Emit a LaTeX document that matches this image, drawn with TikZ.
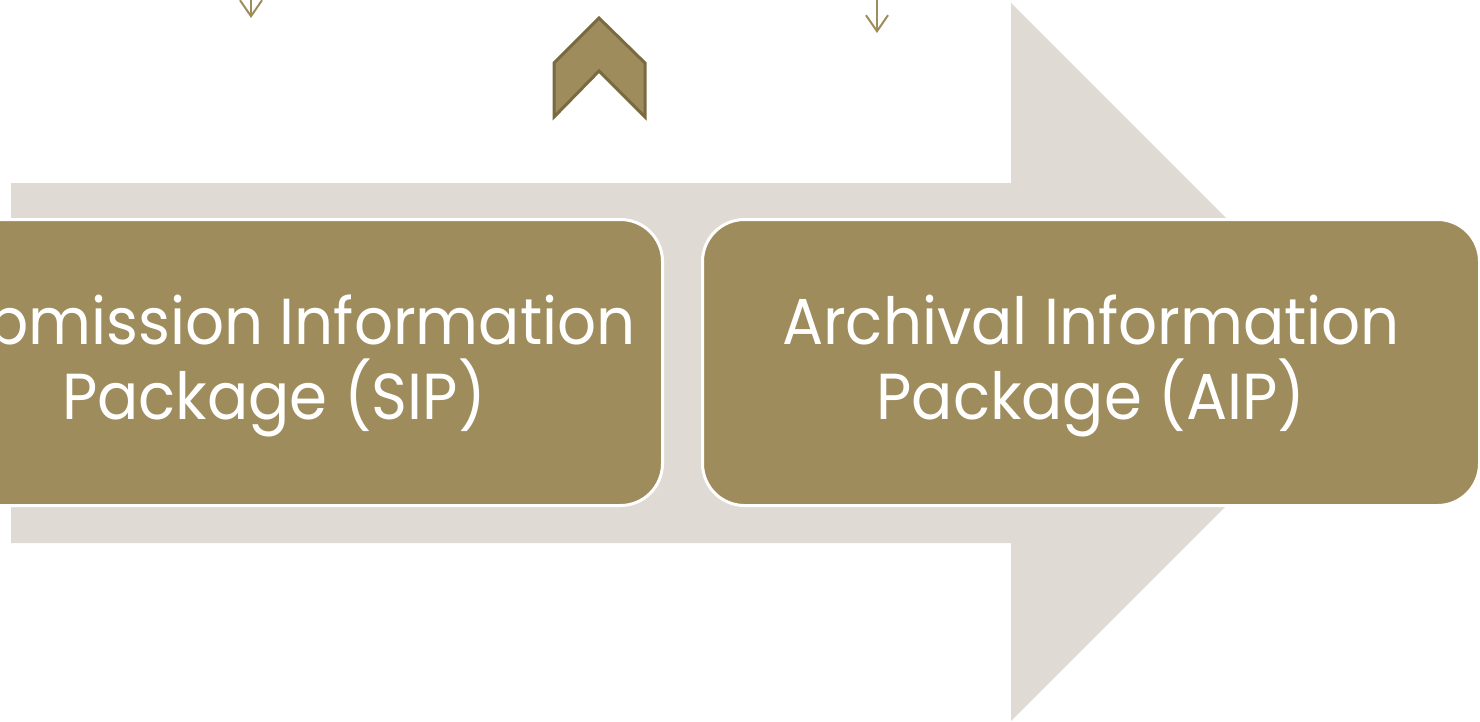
\documentclass[tikz,border=0pt]{standalone}
\usepackage{fontspec}
\setmainfont{Poppins}[FakeStretch=0.94]
\usetikzlibrary{arrows.meta}
\definecolor{boxfill}{RGB}{158,140,92}
\definecolor{shaftgray}{RGB}{223,219,212}
\definecolor{chevline}{RGB}{122,106,64}
\tikzset{
  pkgbox/.style={draw=white, line width=3pt, fill=boxfill, rounded corners=42pt,
    minimum width=777pt, minimum height=286pt, inner sep=0pt},
  pkgtext/.style={text=white, align=center, inner sep=0pt, font=\fontsize{65}{75}\selectfont},
  smallarrow/.style={draw=boxfill, line width=2pt,
    -{Straight Barb[length=16pt,width=22pt,line width=2pt]}}
}
\begin{document}
\begin{tikzpicture}[x=1pt,y=-1pt]
\useasboundingbox (0,0) rectangle (1480,721);
\clip (0,0) rectangle (1480,721);
\fill[shaftgray] (11,183) -- (1011,183) -- (1011,3) -- (1370,362) -- (1011,721) -- (1011,543) -- (11,543) -- cycle;
\node[pkgbox] (sip) at (274,362.5) {};
\node[pkgbox] (aip) at (1091,362.5) {};
\node[pkgtext] (siptext) at ([yshift=-3pt]sip.center) {Submission Information\\Package (SIP)};
\node[pkgtext] (aiptext) at ([yshift=-3pt]aip.center) {Archival Information\\Package (AIP)};
\draw[fill=boxfill, draw=chevline, line width=3pt, line join=miter]
  (599,18) -- (645,63) -- (645,117) -- (599,71) -- (554,117) -- (554,63) -- cycle;
\coordinate (a1s) at (251,-10);
\coordinate (a1e) at (251,18);
\coordinate (a2s) at (877,-10);
\coordinate (a2e) at (877,33);
\draw[smallarrow] (a1s) -- (a1e);
\draw[smallarrow] (a2s) -- (a2e);
\end{tikzpicture}
\end{document}
